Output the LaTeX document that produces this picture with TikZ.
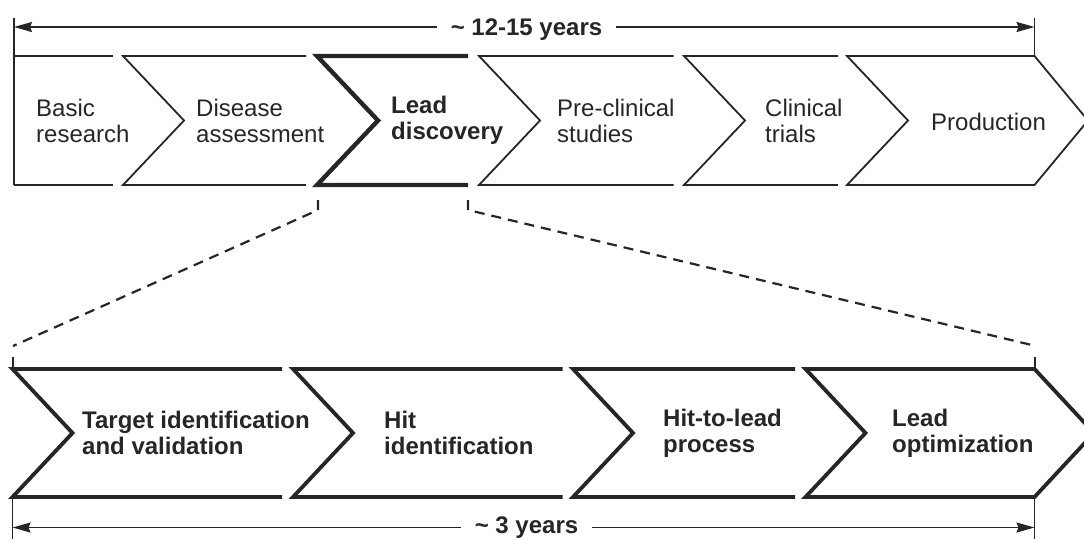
\documentclass[tikz,border=0pt]{standalone}
\usepackage{fontspec}
\setmainfont{Liberation Sans}
\usetikzlibrary{arrows.meta}
\begin{document}
\begin{tikzpicture}[x=1pt,y=-1pt,
  ink/.style={draw=black!85},
  thinrow/.style={ink,line width=1.8pt,line join=miter},
  thickrow/.style={ink,line width=4.4pt,line join=miter},
  lowrow/.style={ink,line width=3.8pt,line join=miter},
  dimline/.style={ink,line width=1.7pt},
  dimtip/.style={-{Stealth[length=18pt,width=10pt,inset=2pt]}},
  zoomline/.style={ink,line width=2.2pt,dash pattern=on 10pt off 7pt},
  steptext/.style={anchor=west,align=left,inner sep=0pt,text=black!85,font=\fontsize{24}{26}\selectfont},
  boldtext/.style={steptext,font=\fontsize{24}{26}\selectfont\bfseries},
  spanlabel/.style={anchor=base,inner xsep=14pt,inner ysep=0pt,text=black!85,font=\fontsize{24}{26}\selectfont\bfseries}
]
\useasboundingbox (0,0) rectangle (1084,539);
\clip (0,0) rectangle (1084,539);

% ---------- top row ----------
\draw[thinrow] (14,18) -- (14,185);
\draw[thinrow] (14,56) -- (112.6,56);
\draw[thinrow] (14,185) -- (112.6,185);
\draw[thinrow] (306,56) -- (123,56) -- (184,120.5) -- (123,185) -- (306,185);
\draw[thickrow] (468,56) -- (317,56) -- (378,120.5) -- (317,185) -- (468,185);
\draw[thinrow] (673.6,56) -- (479,56) -- (540,120.5) -- (479,185) -- (673.6,185);
\draw[thinrow] (838,56) -- (684,56) -- (745,120.5) -- (684,185) -- (838,185);
\draw[thinrow] (847,56) -- (1034.5,56) -- (1088,120.5) -- (1034.5,185) -- (847,185) -- (908,120.5) -- cycle;

\node[steptext] (basic) at (36,120.5) {Basic\\research};
\node[steptext] (disease) at (196,120.5) {Disease\\assessment};
\node[boldtext] (lead) at (391,120.5) {Lead\\discovery};
\node[steptext] (pre) at (557,120.5) {Pre-clinical\\studies};
\node[steptext] (clin) at (765,120.5) {Clinical\\trials};
\node[steptext] (prod) at (931,122) {Production};

% ---------- top span ----------
\coordinate (tl) at (14,27);
\coordinate (tr) at (1034.5,27);
\draw[dimline] (1034.5,18) -- (1034.5,56);
\node[spanlabel] (toplab) at (526.5,35.6) {\textasciitilde\ 12-15 years};
\draw[dimline,dimtip] (tl -| toplab.west) -- (tl);
\draw[dimline,dimtip] (tr -| toplab.east) -- (tr);

% ---------- zoom lines ----------
\coordinate (zl1) at (318,200);
\coordinate (zl2) at (318,210);
\coordinate (zl3) at (13,346);
\coordinate (zr1) at (468,200);
\coordinate (zr2) at (468,210);
\coordinate (zr3) at (1036,346);
\draw[zoomline] (zl1) -- (zl2) -- (zl3);
\draw[zoomline] (zr1) -- (zr2) -- (zr3);
\draw[dimline] (13,357) -- (13,369);
\draw[dimline] (1035,357) -- (1035,369);

% ---------- bottom row ----------
\draw[lowrow] (282,369) -- (12.5,369) -- (72.5,433) -- (12.5,497) -- (282,497);
\draw[lowrow] (562.6,369) -- (293,369) -- (353,433) -- (293,497) -- (562.6,497);
\draw[lowrow] (795,369) -- (573,369) -- (633,433) -- (573,497) -- (795,497);
\draw[lowrow] (805.5,369) -- (1034.5,369) -- (1094,433) -- (1034.5,497) -- (805.5,497) -- (865.5,433) -- cycle;

\node[boldtext] (target) at (82,433) {Target identification\\and validation};
\node[boldtext] (hit) at (384,433) {Hit\\identification};
\node[boldtext] (h2l) at (663,433) {Hit-to-lead\\process};
\node[boldtext] (opt) at (892,433) {Lead\\optimization};

% ---------- bottom span ----------
\coordinate (bl) at (12.5,527.5);
\coordinate (br) at (1034.5,527.5);
\draw[dimline] (12.5,497) -- (12.5,539);
\draw[dimline] (1034.5,497) -- (1034.5,539);
\node[spanlabel] (botlab) at (526.5,533.5) {\textasciitilde\ 3 years};
\draw[dimline,dimtip] (bl -| botlab.west) -- (bl);
\draw[dimline,dimtip] (br -| botlab.east) -- (br);
\end{tikzpicture}
\end{document}
